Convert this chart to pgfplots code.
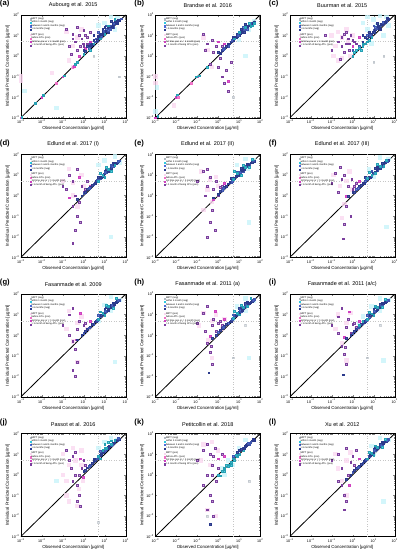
\documentclass[border=0pt]{standalone}
\usepackage{fontspec}
\setmainfont{Liberation Sans}
\usepackage{pgfplots}
\pgfplotsset{compat=1.18}
\usepgfplotslibrary{groupplots}
\definecolor{cnavy}{HTML}{2B3A8C}
\definecolor{cblue}{HTML}{4F6BD8}
\definecolor{ccyan}{HTML}{2FC8E0}
\definecolor{clcyan}{HTML}{C8F4FA}
\definecolor{cpurp}{HTML}{7B3F9E}
\definecolor{cmag}{HTML}{D040C0}
\definecolor{cpink}{HTML}{F070C8}
\definecolor{clpink}{HTML}{FAD8F0}
\definecolor{cgray}{HTML}{B0B8C0}
\newcommand\tp[1]{10\textsuperscript{#1}}
\newcommand\Leg{%
 \addlegendimage{only marks,mark=square*,mark size=0.7pt,cgray}\addlegendentry{MIPT (neg)}%
 \addlegendimage{only marks,mark=square*,mark size=0.7pt,ccyan}\addlegendentry{within 1 month (neg)}%
 \addlegendimage{only marks,mark=square*,mark size=0.7pt,cblue}\addlegendentry{between 1 and 6 months (neg)}%
 \addlegendimage{only marks,mark=square*,mark size=0.7pt,cnavy}\addlegendentry{> 6 months (neg)}%
 \addlegendimage{empty legend}\addlegendentry{}%
 \addlegendimage{only marks,mark=square*,mark size=0.7pt,clpink}\addlegendentry{MIPT (pos)}%
 \addlegendimage{only marks,mark=square*,mark size=0.7pt,cpink}\addlegendentry{before ATI+ (pos)}%
 \addlegendimage{only marks,mark=square*,mark size=0.7pt,cmag}\addlegendentry{1st time pos or < 1 month (pos)}%
 \addlegendimage{only marks,mark=square*,mark size=0.7pt,cpurp}\addlegendentry{> 1 month of being ATI+ (pos)}%
 \addplot[gray!45, dotted, line width=0.4pt, forget plot] coordinates {(5,0.001) (5,100)};
 \addplot[gray!45, dotted, line width=0.4pt, forget plot] coordinates {(0.001,5) (100,5)};
}
\newcommand\Diag{\addplot[black, line width=0.8pt, forget plot] coordinates {(0.001,0.001) (100,100)};}
\tikzset{lab/.style={font=\bfseries\fontsize{7.5}{8}\selectfont, anchor=west, inner sep=0pt}}
\pgfplotsset{
 panel/.style={xmode=log, ymode=log, xmin=0.001, xmax=100, ymin=0.001, ymax=100,
  xtick={0.001,0.01,0.1,1,10,100}, ytick={0.001,0.01,0.1,1,10,100},
  xticklabels={\tp{−3},\tp{−2},\tp{−1},\tp{0},\tp{1},\tp{2}},
  yticklabels={\tp{−3},\tp{−2},\tp{−1},\tp{0},\tp{1},\tp{2}},
  tick label style={font=\fontsize{3.6}{4}\selectfont},
  xticklabel style={inner sep=2pt}, yticklabel style={inner sep=1.2pt},
  xlabel={Observed Concentration [µg/ml]},
  ylabel={Individual Predicted Concentration [µg/ml]},
  label style={font=\fontsize{4.3}{5}\selectfont, inner sep=0.5pt},
  title style={font=\fontsize{5.4}{6}\selectfont, inner sep=1.2pt},
  major tick length=1.6pt, minor tick length=0.9pt,
  axis line style={line width=0.4pt}, tick style={line width=0.3pt},
  legend style={at={(0.02,0.985)}, anchor=north west, draw=none, fill=none,
   font=\fontsize{2.4}{2.8}\selectfont, inner sep=0.5pt, row sep=-0.6pt,
   nodes={inner sep=0.4pt}},
  legend cell align=left, legend image post style={scale=0.8},
 },
 pts/.style={only marks, scatter, scatter src=explicit symbolic, forget plot, mark size=0.9pt,
  scatter/classes={
   g={mark=square*,draw=cgray,fill=cgray,fill opacity=0.4,draw opacity=0.6},
   l={mark=square*,mark size=2.2pt,draw=clcyan,fill=clcyan,fill opacity=0.8,draw opacity=0},
   q={mark=square*,mark size=2.2pt,draw=clpink,fill=clpink,fill opacity=0.8,draw opacity=0},
   c={mark=square*,draw=ccyan!80!black,fill=ccyan,fill opacity=0.8},
   b={mark=square*,draw=cblue!80!black,fill=cblue,fill opacity=0.85},
   n={mark=square*,draw=cnavy,fill=cnavy,fill opacity=0.85},
   k={mark=square*,draw=cpink,fill=cpink,fill opacity=0.8},
   m={mark=square*,draw=cmag,fill=cmag,fill opacity=0.8},
   p={mark=square*,draw=cpurp,fill=cpurp!60,fill opacity=0.75}}},
}
\begin{document}
\begin{tikzpicture}
\begin{groupplot}[group style={group size=3 by 4, horizontal sep=29pt, vertical sep=36pt},
  scale only axis, width=103pt, height=101pt, panel]
%(a)
\nextgroupplot[title={Aubourg et al. 2015}, extra description/.code={\node[lab] at (rel axis cs:-0.2,1.11) {(a)};}]
\Leg
\addplot[pts] table[meta=c, row sep=\\] {x y c\\
0.001 0.1 q\\ 0.001 0.06 q\\ 0.0015 0.02 l\\ 0.03 0.15 q\\ 0.05 0.003 l\\ 0.2 0.6 q\\ 0.3 0.3 q\\ 0.5 8 q\\ 0.15 15 q\\ 0.3 3 q\\ 0.8 20 q\\ 50 0.1 g\\ 3 1 g\\ 20 80 l\\ 40 70 l\\ 10 40 l\\ 5 30 l\\ 30 20 l\\
0.001 0.001 m\\ 0.0011 0.0011 c\\ 0.01 0.01 m\\ 0.012 0.012 c\\ 0.1 0.1 m\\ 0.12 0.11 c\\ 0.3 0.3 k\\ 0.35 0.32 m\\ 0.4 0.4 c\\ 0.005 0.005 c\\ 0.05 0.05 k\\ 0.5 0.5 c\\
0.15 20 p\\ 0.3 12 p\\ 0.5 25 p\\ 0.6 10 p\\ 0.8 7 p\\ 1 18 p\\ 0.4 5 p\\ 0.2 3 p\\ 0.7 3 p\\ 1.2 10 p\\ 0.3 7 p\\ 0.9 4 p\\ 1.5 8 p\\ 2 14 p\\ 0.5 2 p\\ 0.25 1.2 p\\ 0.6 1 m\\ 1.2 2.5 m\\ 1 3 p\\ 1.5 4 p\\ 2 5 m\\
1 2 n\\ 1.5 3 n\\ 2 4 b\\ 2.5 4 n\\ 3 6 n\\ 4 7 b\\ 5 9 n\\ 6 10 n\\ 7 12 b\\ 8 14 n\\ 10 15 n\\ 12 20 b\\ 15 22 n\\ 18 28 n\\ 20 30 b\\ 25 35 n\\ 30 40 n\\ 35 45 b\\ 40 50 n\\ 50 55 n\\ 60 65 b\\ 8 20 n\\ 12 30 b\\ 20 50 n\\ 5 15 b\\ 3 10 n\\ 10 25 n\\ 25 25 b\\ 40 40 n\\ 15 15 n\\ 6 8 b\\ 2 3 n\\ 4 5 n\\
1.2 1.8 n\\ 1.8 2.5 b\\ 2.2 3.5 n\\ 2.8 3.6 n\\ 3.5 5 b\\ 4.5 6 n\\ 5.5 8 n\\ 7 9 b\\ 9 11 n\\ 11 16 n\\ 14 18 b\\ 17 24 n\\ 22 26 n\\ 28 38 b\\ 35 40 n\\ 45 55 n\\ 9 16 b\\ 14 28 n\\ 7 11 n\\ 18 20 b\\ 24 30 n\\ 33 50 n\\
2 2 c\\ 3 4 c\\ 1 1.2 c\\ 10 12 c\\ 30 60 c\\ 6 7 c\\ 15 30 c\\
};
\Diag
%(b)
\nextgroupplot[title={Brandse et al. 2016}, extra description/.code={\node[lab] at (rel axis cs:-0.2,1.11) {(b)};}]
\Leg
\addplot[pts] table[meta=c, row sep=\\] {x y c\\
0.001 0.1 q\\ 0.001 0.05 q\\ 0.0012 0.03 l\\ 0.001 0.002 l\\ 0.2 8 q\\ 0.5 0.3 q\\ 0.3 2 q\\ 5 0.01 g\\ 20 1 l\\ 50 50 l\\ 30 20 l\\ 10 6 l\\ 0.008 0.004 q\\
0.001 0.001 m\\ 0.0013 0.0012 c\\ 0.01 0.01 m\\ 0.011 0.012 c\\ 0.012 0.01 k\\ 0.1 0.1 m\\ 0.09 0.1 c\\ 0.12 0.11 c\\ 0.05 0.05 k\\ 0.3 0.3 c\\
0.2 12 p\\ 0.3 4 p\\ 0.5 6 p\\ 0.25 2 p\\ 0.8 3 p\\ 1 0.3 p\\ 1.5 0.1 p\\ 2 0.05 p\\ 3 0.02 p\\ 2.5 0.2 p\\ 4 0.5 p\\ 1.2 0.8 p\\ 0.6 1.5 p\\ 1 5 m\\ 2 4 m\\ 3 0.06 m\\ 0.4 0.4 p\\ 1.5 3 p\\
1 1.5 n\\ 1.5 2 n\\ 2 2.5 b\\ 3 4 n\\ 4 5 n\\ 5 6 b\\ 6 8 n\\ 8 9 n\\ 10 12 b\\ 12 14 n\\ 15 18 n\\ 20 22 b\\ 25 28 n\\ 30 32 n\\ 40 40 b\\ 50 45 n\\ 8 12 n\\ 15 25 b\\ 20 35 n\\ 5 8 n\\ 3 3 b\\ 10 10 n\\
1.2 1.4 n\\ 1.8 2.2 b\\ 2.5 3 n\\ 3.5 4 n\\ 4.5 6 b\\ 5.5 6 n\\ 7 8.5 n\\ 9 10 b\\ 11 13 n\\ 14 15 n\\ 17 20 b\\ 22 25 n\\ 28 30 n\\ 35 35 b\\ 45 38 n\\ 12 20 n\\ 25 20 b\\ 18 15 n\\
10 15 c\\ 20 25 c\\ 30 40 c\\ 40 30 c\\ 50 40 c\\ 6 7 c\\ 35 28 c\\
};
\Diag
%(c)
\nextgroupplot[title={Buurman et al. 2015}, extra description/.code={\node[lab] at (rel axis cs:-0.2,1.11) {(c)};}]
\Leg
\addplot[pts] table[meta=c, row sep=\\] {x y c\\
0.1 10 q\\ 0.15 3 q\\ 0.2 15 q\\ 0.3 0.8 q\\ 0.5 20 q\\ 0.8 1 q\\ 0.12 1 q\\ 0.6 5 q\\ 0.2 0.6 q\\ 0.3 8 q\\ 1 10 q\\ 3 40 l\\ 5 80 l\\ 10 60 l\\ 20 90 l\\ 40 80 l\\ 50 30 l\\ 30 10 l\\ 8 4 l\\ 5 20 l\\ 15 30 l\\ 10 0.5 g\\ 30 1 g\\
0.05 10 p\\ 0.1 2 p\\ 0.2 5 p\\ 0.3 3 p\\ 0.3 8 p\\ 0.4 12 p\\ 0.5 4 p\\ 0.6 7 p\\ 0.7 2 p\\ 0.8 10 p\\ 0.4 1.5 p\\ 1 6 p\\ 1.5 4 p\\ 2 8 m\\ 1 3 m\\ 0.5 15 p\\ 0.25 0.7 p\\ 0.7 4 p\\ 1.2 5 p\\
1 2 b\\ 2 3 b\\ 3 5 n\\ 4 8 n\\ 5 10 b\\ 6 9 n\\ 8 12 n\\ 10 18 b\\ 12 20 n\\ 15 25 n\\ 20 30 b\\ 25 35 n\\ 30 40 n\\ 40 50 b\\ 50 60 n\\ 6 15 n\\ 10 30 b\\ 15 40 n\\ 3 10 n\\ 20 20 n\\
5 7 n\\ 7 10 b\\ 9 14 n\\ 11 15 n\\ 14 22 b\\ 17 28 n\\ 22 35 n\\ 28 45 b\\ 35 45 n\\ 45 70 n\\ 12 25 b\\ 18 22 n\\
1.2 1.5 c\\ 1.5 2 c\\ 2 2.5 c\\ 2.5 2 c\\ 3 3 c\\ 4 4 c\\ 5 5 c\\ 1 1 c\\ 8 8 c\\ 3 4 c\\ 6 6 c\\
};
\Diag
%(d)
\nextgroupplot[title={Edlund et al. 2017 (I)}, extra description/.code={\node[lab] at (rel axis cs:-0.2,1.11) {(d)};}]
\Leg
\addplot[pts] table[meta=c, row sep=\\] {x y c\\
0.2 20 q\\ 0.1 5 q\\ 0.3 1 q\\ 0.5 0.3 q\\ 0.8 10 q\\ 0.3 4 q\\ 1 3 q\\ 20 0.01 l\\ 30 80 l\\ 10 50 l\\ 5 30 l\\ 50 40 l\\ 8 8 l\\ 20 20 l\\
0.1 3 p\\ 0.2 10 p\\ 0.3 5 p\\ 0.15 2 p\\ 0.4 1 p\\ 0.5 20 p\\ 0.3 0.3 p\\ 0.5 0.1 p\\ 0.4 0.02 p\\ 0.3 0.005 p\\ 0.6 0.5 p\\ 0.8 3 p\\ 1 1.5 p\\ 0.2 0.8 m\\ 0.6 8 m\\ 1.5 5 p\\ 2 3 m\\ 0.7 0.05 p\\ 1.2 2 p\\
0.5 0.7 n\\ 0.8 1 n\\ 1 1.3 b\\ 1.5 2 n\\ 2 2.5 n\\ 3 3.5 b\\ 4 5 n\\ 5 6 n\\ 6 7 b\\ 8 9 n\\ 10 12 n\\ 12 14 b\\ 15 17 n\\ 20 22 n\\ 25 28 b\\ 30 32 n\\ 40 40 n\\ 50 50 b\\ 10 15 n\\ 20 30 b\\ 5 8 n\\
1.2 1.5 n\\ 1.8 2.2 b\\ 2.5 3.2 n\\ 3.5 4 n\\ 4.5 5.5 b\\ 7 8 n\\ 9 11 n\\ 11 14 b\\ 14 15 n\\ 17 20 n\\ 22 26 b\\ 28 35 n\\ 35 38 n\\ 45 48 b\\ 12 20 n\\ 25 40 n\\
5 5 c\\ 8 10 c\\ 10 8 c\\ 15 20 c\\ 20 15 c\\ 30 30 c\\ 6 12 c\\ 12 25 c\\
};
\Diag
%(e)
\nextgroupplot[title={Edlund et al. 2017 (II)}, extra description/.code={\node[lab] at (rel axis cs:-0.2,1.11) {(e)};}]
\Leg
\addplot[pts] table[meta=c, row sep=\\] {x y c\\
0.15 15 q\\ 0.3 2 q\\ 0.5 0.5 q\\ 0.2 0.2 q\\ 0.8 8 q\\ 0.4 6 q\\ 1 3 q\\ 30 0.05 l\\ 20 60 l\\ 50 50 l\\ 8 30 l\\ 10 10 l\\ 25 20 l\\
0.1 5 p\\ 0.2 15 p\\ 0.3 3 p\\ 0.25 1 p\\ 0.4 8 p\\ 0.5 0.2 p\\ 0.4 0.05 p\\ 0.3 0.01 p\\ 0.6 2 p\\ 0.8 5 p\\ 1 1 p\\ 1.5 3 p\\ 0.6 0.7 m\\ 0.3 20 p\\ 2 4 m\\ 0.7 0.02 p\\ 1.2 2.5 p\\
0.6 0.8 n\\ 1 1.2 n\\ 1.5 1.8 b\\ 2 2.6 n\\ 3 3.8 n\\ 4 4.5 b\\ 5 6.5 n\\ 6 7 n\\ 8 10 b\\ 10 11 n\\ 12 15 n\\ 15 16 b\\ 20 24 n\\ 25 27 n\\ 30 35 b\\ 40 42 n\\ 50 48 n\\ 8 14 b\\ 15 22 n\\ 4 7 n\\
1.2 1.6 n\\ 1.8 2.2 b\\ 2.5 3 n\\ 3.5 4.5 n\\ 4.5 5 b\\ 7 9 n\\ 9 10 n\\ 11 14 b\\ 14 18 n\\ 17 19 n\\ 22 28 b\\ 28 30 n\\ 35 40 n\\ 45 50 b\\ 12 22 n\\ 25 35 n\\
5 6 c\\ 8 12 c\\ 12 10 c\\ 20 25 c\\ 30 25 c\\ 6 15 c\\ 15 30 c\\ 40 60 c\\
};
\Diag
%(f)
\nextgroupplot[title={Edlund et al. 2017 (III)}, extra description/.code={\node[lab] at (rel axis cs:-0.2,1.11) {(f)};}]
\Leg
\addplot[pts] table[meta=c, row sep=\\] {x y c\\
0.12 10 q\\ 0.25 3 q\\ 0.4 0.4 q\\ 0.3 0.08 q\\ 0.7 15 q\\ 0.5 5 q\\ 1 2 q\\ 40 0.03 l\\ 20 70 l\\ 50 60 l\\ 6 20 l\\ 10 8 l\\ 25 25 l\\
0.1 4 p\\ 0.15 12 p\\ 0.3 6 p\\ 0.2 1.5 p\\ 0.4 10 p\\ 0.5 0.3 p\\ 0.4 0.04 p\\ 0.35 0.008 p\\ 0.6 3 p\\ 0.9 6 p\\ 1 2 p\\ 1.5 4 p\\ 0.5 0.9 m\\ 0.25 25 p\\ 2 5 m\\ 0.8 0.1 p\\ 1.2 3 p\\
0.6 0.9 n\\ 1 1.4 n\\ 1.5 2 b\\ 2 2.8 n\\ 3 4 n\\ 4 5 b\\ 5 6 n\\ 6 8 n\\ 8 9 b\\ 10 13 n\\ 12 14 n\\ 15 18 b\\ 20 22 n\\ 25 30 n\\ 30 33 b\\ 40 45 n\\ 50 55 n\\ 8 15 b\\ 15 25 n\\ 4 8 n\\
1.2 1.5 n\\ 1.8 2.4 b\\ 2.5 3.2 n\\ 3.5 4.2 n\\ 4.5 6 b\\ 7 8 n\\ 9 12 n\\ 11 12 b\\ 14 17 n\\ 17 21 n\\ 22 28 b\\ 28 32 n\\ 35 42 n\\ 45 48 b\\ 12 22 n\\ 25 38 n\\
5 7 c\\ 8 10 c\\ 12 12 c\\ 20 28 c\\ 30 28 c\\ 6 14 c\\ 15 35 c\\ 40 55 c\\
};
\Diag
%(g)
\nextgroupplot[title={Fasanmade et al. 2009}, extra description/.code={\node[lab] at (rel axis cs:-0.2,1.11) {(g)};}]
\Leg
\addplot[pts] table[meta=c, row sep=\\] {x y c\\
0.2 15 q\\ 0.3 0.5 q\\ 0.5 0.05 q\\ 0.8 8 q\\ 0.15 2 q\\ 0.5 4 q\\ 1.5 2 q\\ 30 0.05 l\\ 20 70 l\\ 50 50 l\\ 10 30 l\\ 5 5 l\\ 20 15 l\\
0.1 3 p\\ 0.2 10 p\\ 0.3 20 p\\ 0.2 1 p\\ 0.3 0.5 p\\ 0.4 0.2 p\\ 0.5 0.05 p\\ 0.3 0.02 p\\ 0.4 0.01 p\\ 0.5 2 p\\ 0.6 5 p\\ 0.8 1 p\\ 1 3 p\\ 1.5 2 p\\ 0.7 12 m\\ 2 5 m\\ 0.45 0.6 m\\ 1.2 4 p\\
0.5 0.6 n\\ 0.8 1 n\\ 1 1.3 b\\ 1.5 2 n\\ 2 2.6 n\\ 3 3.5 b\\ 4 5 n\\ 5 6 n\\ 6 8 b\\ 8 10 n\\ 10 12 n\\ 12 15 b\\ 15 18 n\\ 20 24 n\\ 25 28 b\\ 30 35 n\\ 40 45 n\\ 50 50 b\\ 10 18 n\\ 20 30 n\\ 5 9 b\\
1.2 1.6 n\\ 1.8 2.3 b\\ 2.5 3.4 n\\ 3.5 4.5 n\\ 4.5 5.5 b\\ 7 9 n\\ 9 11 n\\ 11 15 b\\ 14 16 n\\ 17 22 n\\ 22 28 b\\ 28 32 n\\ 35 42 n\\ 45 52 b\\ 12 22 n\\ 25 38 n\\
5 6 c\\ 8 12 c\\ 10 9 c\\ 15 25 c\\ 25 20 c\\ 6 14 c\\ 12 30 c\\ 35 60 c\\
};
\Diag
%(h)
\nextgroupplot[title={Fasanmade et al. 2011 (a)}, extra description/.code={\node[lab] at (rel axis cs:-0.2,1.11) {(h)};}]
\Leg
\addplot[pts] table[meta=c, row sep=\\] {x y c\\
0.2 12 q\\ 0.35 0.6 q\\ 0.5 0.08 q\\ 0.8 10 q\\ 0.12 3 q\\ 0.5 5 q\\ 1.5 2 q\\ 2 6 q\\ 30 0.08 l\\ 20 60 l\\ 50 45 l\\ 8 25 l\\ 5 6 l\\ 20 15 l\\ 5 0.08 g\\ 20 3 g\\
0.1 4 p\\ 0.2 12 p\\ 0.3 25 p\\ 0.25 1.5 p\\ 0.3 0.4 p\\ 0.4 0.15 p\\ 0.5 0.04 p\\ 0.35 0.015 n\\ 0.45 0.3 p\\ 0.5 3 p\\ 0.6 6 p\\ 0.8 1.5 p\\ 1 4 p\\ 1.5 3 p\\ 0.7 15 m\\ 2 6 m\\ 0.4 0.9 m\\ 1.2 5 p\\
0.5 0.7 n\\ 0.8 1 n\\ 1 1.4 b\\ 1.5 2.2 n\\ 2 2.8 n\\ 3 4 b\\ 4 5 n\\ 5 6.5 n\\ 6 8 b\\ 8 10 n\\ 10 13 n\\ 12 15 b\\ 15 20 n\\ 20 25 n\\ 25 30 b\\ 30 35 n\\ 40 45 n\\ 50 55 b\\ 10 20 n\\ 20 35 n\\ 5 10 b\\
1.2 1.7 n\\ 1.8 2.4 b\\ 2.5 3.5 n\\ 3.5 4.5 n\\ 4.5 6 b\\ 7 9 n\\ 9 12 n\\ 11 16 b\\ 14 17 n\\ 17 23 n\\ 22 28 b\\ 28 36 n\\ 35 40 n\\ 45 52 b\\ 12 24 n\\ 25 40 n\\
5 7 c\\ 8 12 c\\ 10 10 c\\ 15 22 c\\ 25 25 c\\ 6 15 c\\ 12 28 c\\ 35 60 c\\
};
\Diag
%(i)
\nextgroupplot[title={Fasanmade et al. 2011 (a/c)}, extra description/.code={\node[lab] at (rel axis cs:-0.2,1.11) {(i)};}]
\Leg
\addplot[pts] table[meta=c, row sep=\\] {x y c\\
0.2 10 q\\ 0.3 0.4 q\\ 0.5 0.06 q\\ 0.8 12 q\\ 0.15 2 q\\ 0.5 4 q\\ 1.5 2 q\\ 30 0.06 l\\ 20 60 l\\ 50 50 l\\ 8 25 l\\ 2 4 l\\ 3 8 l\\ 20 15 l\\ 5 0.08 g\\ 20 3 g\\
0.1 3 p\\ 0.2 8 p\\ 0.3 20 p\\ 0.2 1.2 p\\ 0.3 0.3 p\\ 0.4 0.12 p\\ 0.5 0.04 p\\ 0.35 0.012 n\\ 0.45 0.25 p\\ 0.5 2.5 p\\ 0.6 6 p\\ 0.8 1.2 p\\ 1 3.5 p\\ 1.5 2.5 p\\ 0.7 14 m\\ 2 5 m\\ 0.4 0.8 m\\ 1.2 4 p\\
0.5 0.7 n\\ 0.8 1 n\\ 1 1.3 b\\ 1.5 2 n\\ 2 2.7 n\\ 3 3.8 b\\ 4 5 n\\ 5 6 n\\ 6 7.5 b\\ 8 10 n\\ 10 12 n\\ 12 15 b\\ 15 19 n\\ 20 24 n\\ 25 29 b\\ 30 34 n\\ 40 44 n\\ 50 52 b\\ 10 18 n\\ 20 32 n\\ 5 9 b\\
1.2 1.6 n\\ 1.8 2.3 b\\ 2.5 3.3 n\\ 3.5 4.4 n\\ 4.5 5.6 b\\ 7 9 n\\ 9 11 n\\ 11 15 b\\ 14 17 n\\ 17 22 n\\ 22 27 b\\ 28 34 n\\ 35 41 n\\ 45 50 b\\ 12 22 n\\ 25 38 n\\
5 6 c\\ 8 11 c\\ 10 9 c\\ 15 22 c\\ 25 22 c\\ 6 13 c\\ 12 26 c\\ 35 55 c\\ 2 3 c\\ 3 5 c\\
};
\Diag
%(j)
\nextgroupplot[title={Passot et al. 2016}, extra description/.code={\node[lab] at (rel axis cs:-0.2,1.11) {(j)};}]
\Leg
\addplot[pts] table[meta=c, row sep=\\] {x y c\\
0.1 10 q\\ 0.15 0.1 q\\ 0.2 0.05 q\\ 0.3 20 q\\ 0.5 0.03 q\\ 0.8 15 q\\ 0.9 0.5 q\\ 0.1 1 q\\ 0.6 0.2 q\\ 0.2 3 q\\ 0.4 5 q\\ 0.8 3 q\\ 0.15 0.5 q\\ 0.05 0.5 l\\ 5 0.005 g\\ 20 60 l\\ 40 50 l\\ 10 40 l\\ 5 20 l\\
0.15 15 p\\ 0.2 5 p\\ 0.3 8 p\\ 0.25 2 p\\ 0.4 1 p\\ 0.5 0.3 p\\ 0.6 0.1 p\\ 0.5 0.05 p\\ 0.7 0.03 p\\ 0.8 2 p\\ 1 5 p\\ 0.4 12 p\\ 0.3 0.5 p\\ 0.6 1 p\\ 0.9 0.8 m\\ 0.7 6 m\\ 1.2 3 p\\
1 1.5 n\\ 1.5 2.2 n\\ 2 3 b\\ 3 4.5 n\\ 4 6 n\\ 5 7 b\\ 6 9 n\\ 8 12 n\\ 10 14 b\\ 12 18 n\\ 15 22 n\\ 20 28 b\\ 25 35 n\\ 30 40 n\\ 40 50 b\\ 50 55 n\\ 3 6 n\\ 6 14 b\\
1.2 1.7 n\\ 1.8 2.6 b\\ 2.5 3.5 n\\ 3.5 5 n\\ 4.5 6 b\\ 7 10 n\\ 9 12 n\\ 11 16 b\\ 14 19 n\\ 17 25 n\\ 22 30 b\\ 28 36 n\\ 35 45 n\\ 45 60 b\\
10 30 c\\ 15 40 c\\ 20 30 c\\ 8 15 c\\ 12 20 c\\ 30 50 c\\ 5 8 c\\ 6 6 c\\ 10 20 c\\ 20 45 c\\
};
\Diag
%(k)
\nextgroupplot[title={Petitcollin et al. 2018}, extra description/.code={\node[lab] at (rel axis cs:-0.2,1.11) {(k)};}]
\Leg
\addplot[pts] table[meta=c, row sep=\\] {x y c\\
0.2 30 q\\ 0.5 40 q\\ 0.3 0.02 q\\ 0.8 0.01 q\\ 0.15 5 q\\ 0.4 3 q\\ 1 15 q\\ 2 1 l\\ 5 3 l\\ 10 20 l\\ 3 5 l\\ 1.5 2 l\\ 30 0.5 g\\ 0.3 0.01 g\\ 20 50 l\\
0.1 5 p\\ 0.2 15 p\\ 0.3 30 p\\ 0.4 10 p\\ 0.5 3 p\\ 0.3 1 p\\ 0.2 0.3 p\\ 0.4 0.1 p\\ 0.5 0.05 p\\ 0.3 0.02 p\\ 0.4 0.004 n\\ 0.6 0.01 p\\ 0.8 0.5 p\\ 1 2 p\\ 0.6 8 p\\ 1.5 10 p\\ 0.7 20 p\\ 1 6 m\\ 2 8 m\\ 0.5 1 p\\
1 1 c\\ 1.5 1.5 c\\ 2 2 c\\ 2 1.5 c\\ 3 3 c\\ 4 4 c\\ 5 6 c\\ 6 5 c\\ 8 8 c\\ 10 10 c\\ 15 15 c\\ 1.2 0.9 c\\ 3 2.5 c\\ 2.5 3 c\\ 4 3 c\\ 7 9 c\\
10 15 n\\ 20 25 n\\ 30 30 b\\ 50 50 n\\ 8 12 n\\ 15 20 b\\ 40 45 n\\ 25 30 n\\ 5 8 b\\ 12 18 n\\ 18 20 n\\ 35 40 b\\ 45 55 n\\ 22 28 n\\ 28 35 b\\
};
\Diag
%(l)
\nextgroupplot[title={Xu et al. 2012}, extra description/.code={\node[lab] at (rel axis cs:-0.2,1.11) {(l)};}]
\Leg
\addplot[pts] table[meta=c, row sep=\\] {x y c\\
0.15 10 q\\ 0.3 0.5 q\\ 0.5 0.1 q\\ 0.8 12 q\\ 0.2 2 q\\ 0.5 5 q\\ 30 0.05 l\\ 20 60 l\\ 50 50 l\\ 8 25 l\\ 10 10 l\\
0.1 5 p\\ 0.2 10 p\\ 0.3 2 p\\ 0.2 0.5 p\\ 0.3 0.3 p\\ 0.4 0.1 p\\ 0.5 0.05 p\\ 0.6 1 p\\ 0.8 4 p\\ 1 8 p\\ 1.5 15 p\\ 0.5 20 p\\ 0.4 0.02 p\\ 0.7 0.3 m\\ 2 6 m\\ 1.2 3 p\\
0.5 0.6 n\\ 0.8 1 n\\ 1 1.3 b\\ 1.5 2 n\\ 2 2.6 n\\ 3 3.8 b\\ 4 5 n\\ 5 6 n\\ 6 8 b\\ 8 10 n\\ 10 12 n\\ 12 15 b\\ 15 19 n\\ 20 24 n\\ 25 28 b\\ 30 34 n\\ 40 44 n\\ 50 52 b\\ 10 17 n\\ 20 30 n\\
1.2 1.6 n\\ 1.8 2.3 b\\ 2.5 3.3 n\\ 3.5 4.4 n\\ 4.5 5.6 b\\ 7 9 n\\ 9 11 n\\ 11 15 b\\ 14 17 n\\ 17 22 n\\ 22 27 b\\ 28 34 n\\ 35 41 n\\ 45 50 b\\ 12 22 n\\ 25 38 n\\
5 6 c\\ 8 11 c\\ 10 9 c\\ 15 22 c\\ 25 22 c\\ 6 13 c\\ 12 26 c\\ 35 55 c\\
};
\Diag
\end{groupplot}
\end{tikzpicture}
\end{document}
